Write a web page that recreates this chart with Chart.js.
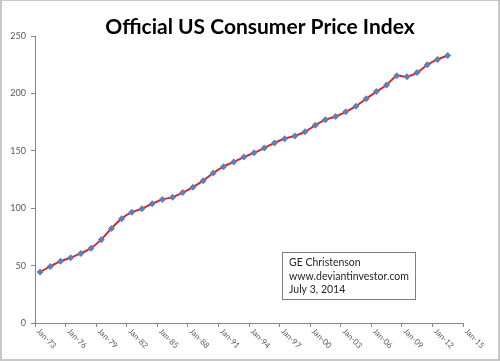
<!DOCTYPE html>
<html>
<head>
<meta charset="utf-8">
<script src="https://cdn.jsdelivr.net/npm/chart.js@4"></script>
<style>
  body { margin: 0; background: #fff; }
  #wrap { width: 500px; height: 361px; }
</style>
</head>
<body>
<div id="wrap"><canvas id="myChart" width="500" height="361"></canvas></div>
<script>
// annual average CPI-U, plotted at mid-year
const years = [1973, 1974, 1975, 1976, 1977, 1978, 1979, 1980, 1981, 1982,
  1983, 1984, 1985, 1986, 1987, 1988, 1989, 1990, 1991, 1992,
  1993, 1994, 1995, 1996, 1997, 1998, 1999, 2000, 2001, 2002,
  2003, 2004, 2005, 2006, 2007, 2008, 2009, 2010, 2011, 2012, 2013];
const cpi = [44.4, 49.3, 53.8, 56.9, 60.6, 65.2, 72.6, 82.4, 90.9, 96.5,
  99.6, 103.9, 107.6, 109.6, 113.6, 118.3, 124.0, 130.7, 136.2, 140.3,
  144.5, 148.2, 152.4, 156.9, 160.5, 163.0, 166.6, 172.2, 177.1, 179.9,
  184.0, 188.9, 195.3, 201.6, 207.3, 215.3, 214.5, 218.1, 224.9, 229.6, 233.0];
const tickLabels = ["Jan-73", "Jan-76", "Jan-79", "Jan-82", "Jan-85", "Jan-88",
  "Jan-91", "Jan-94", "Jan-97", "Jan-00", "Jan-03", "Jan-06", "Jan-09",
  "Jan-12", "Jan-15"];
const title = "Official US Consumer Price Index";
const note = ["GE Christenson", "www.deviantinvestor.com", "July 3, 2014"];

Chart.defaults.font.family = "Lato";

const points = years.map((y, i) => ({ x: y + 0.5, y: cpi[i] }));

const decor = {
  id: "decor",
  beforeDraw(chart) {
    const ctx = chart.ctx;
    ctx.save();
    ctx.fillStyle = "#fff";
    ctx.fillRect(0, 0, 500, 361);
    ctx.strokeStyle = "#c8c8c8";
    ctx.lineWidth = 2;
    ctx.strokeRect(1, 0, 498, 360);
    ctx.restore();
  },
  afterDraw(chart) {
    const ctx = chart.ctx;
    const xs = chart.scales.x;
    ctx.save();
    // title
    ctx.fillStyle = "#000";
    ctx.font = "bold 21px Lato";
    ctx.textAlign = "center";
    ctx.textBaseline = "alphabetic";
    ctx.fillText(title, 260, 34);

    // x tick labels, rotated clockwise
    ctx.font = "8px Lato";
    ctx.fillStyle = "#595959";
    ctx.textAlign = "left";
    ctx.textBaseline = "middle";
    xs.ticks.forEach((t, i) => {
      const px = xs.getPixelForValue(t.value);
      ctx.save();
      ctx.translate(px + 3, 330);
      ctx.rotate(Math.PI / 4);
      ctx.fillText(tickLabels[i] || "", 0, 0);
      ctx.restore();
    });

    // note box
    ctx.strokeStyle = "#7f7f7f";
    ctx.lineWidth = 1;
    ctx.strokeRect(282.5, 252.5, 133, 47);
    ctx.fillStyle = "#262626";
    ctx.font = "10.5px Lato";
    ctx.textBaseline = "alphabetic";
    note.forEach((s, i) => ctx.fillText(s, 289, 266 + i * 13.5));
    ctx.restore();
  }
};

new Chart(document.getElementById("myChart"), {
  type: "line",
  data: {
    datasets: [{
      data: points,
      borderColor: "#D9262B",
      borderWidth: 2,
      tension: 0.3,
      pointStyle: "rectRot",
      pointRadius: 3.5,
      pointBackgroundColor: "#5B80BA",
      pointBorderColor: "#5B80BA",
      pointBorderWidth: 0
    }]
  },
  options: {
    responsive: false,
    animation: false,
    layout: { padding: { top: 36, right: 37, left: 0, bottom: 0 } },
    plugins: { legend: { display: false }, tooltip: { enabled: false } },
    scales: {
      x: {
        type: "linear",
        min: 1973,
        max: 2015,
        ticks: { stepSize: 3, display: false },
        grid: { drawOnChartArea: false, drawTicks: true, tickLength: 4, color: "#868686" },
        border: { color: "#868686" },
        afterFit: (s) => { s.height = 38; }
      },
      y: {
        min: 0,
        max: 250,
        ticks: { stepSize: 50, padding: 5, color: "#595959", font: { size: 9 } },
        grid: { drawOnChartArea: false, drawTicks: true, tickLength: 4, color: "#868686" },
        border: { color: "#868686" },
        afterFit: (s) => { s.width = 35; }
      }
    }
  },
  plugins: [decor]
});
</script>
</body>
</html>
